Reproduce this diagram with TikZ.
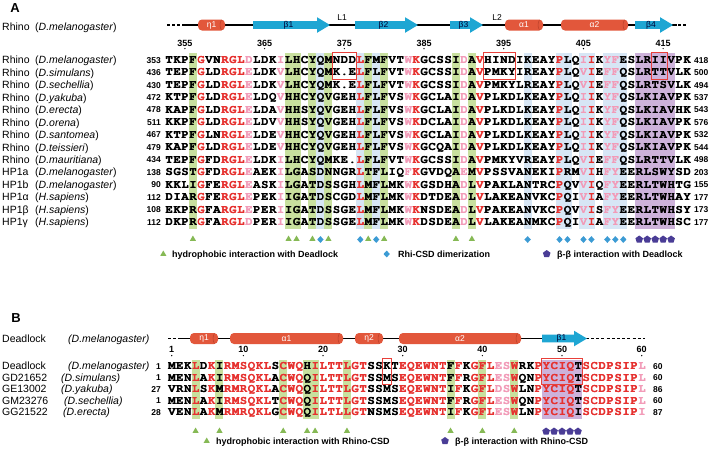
\documentclass[tikz,border=0pt]{standalone}
\usepackage[T1]{fontenc}
\usepackage{fontspec}
\setmainfont{Liberation Sans}
\usetikzlibrary{shapes.geometric}
\definecolor{helixred}{HTML}{E2573B}
\definecolor{helixedge}{HTML}{B8402A}
\definecolor{strandcyan}{HTML}{1EA6D3}
\definecolor{greenbg}{HTML}{C8E09E}
\definecolor{bluebg}{HTML}{D7E6F5}
\definecolor{purplebg}{HTML}{CDB2DA}
\definecolor{seqred}{HTML}{E6312F}
\definecolor{seqpink}{HTML}{F29BB8}
\definecolor{boxred}{HTML}{E8403A}
\definecolor{trigreen}{HTML}{86B955}
\definecolor{diablue}{HTML}{3C9BD4}
\definecolor{pentpurple}{HTML}{4A3D96}
\makeatletter
\newcount\seqcol
\newcount\seqrownum
\def\seqcolor{}
\def\seqdx{7.97}
\newcommand\seqfont{\fontencoding{T1}\fontfamily{pcr}\fontseries{b}\fontshape{n}\fontsize{12}{12}\selectfont}
\def\seqrun#1{%
  \ifx#1\relax\def\seqnext{}%
  \else\ifx#1!\def\seqnext{\def\seqcolor{seqpink}\seqrun}%
  \else\def\seqnext{\seqput{#1}\def\seqcolor{}\seqrun}%
  \fi\fi\seqnext}
\def\seqput#1{%
  \def\seqc{black}%
  \ifnum`#1>`Z\relax\def\seqc{seqred}\fi
  \ifx\seqcolor\@empty\else\let\seqc\seqcolor\fi
  \ifcsname sc\seqpanel-\the\seqcol\endcsname\edef\seqc{\csname sc\seqpanel-\the\seqcol\endcsname}\fi
  \node[seqch,text=\seqc] (\seqpanel\the\seqrownum-\the\seqcol) at ({\seqxz+\the\seqcol*\seqdx},\seqyy) {\uppercase{#1}};%
  \node[seqch,text=\seqc] (\seqpanel\the\seqrownum-\the\seqcol b) at ({\seqxz+\the\seqcol*\seqdx+0.4},\seqyy) {\uppercase{#1}};%
  \global\advance\seqcol by 1\relax}
\def\seqrow#1#2#3#4#5{\def\seqpanel{#1}\global\seqrownum=#2\relax\def\seqxz{#3}\def\seqyy{#4}\global\seqcol=0\relax\def\seqcolor{}\seqrun#5\relax}
\def\setcols#1#2#3{\@for\c:=#3\do{\expandafter\xdef\csname sc#1-\c\endcsname{#2}}}
\setcols{A}{seqred}{4,7,8,9,24,31,39,49,53}
\setcols{A}{seqpink}{10,14,30,37,52,55,56}
\makeatother
% rows of panel A: #1 index, #2 name, #3 species, #4 start, #5 end, #6 sequence
\newcommand\rowA[6]{%
  \pgfmathsetmacro\rowyc{60+12.46*#1}%
  \pgfmathsetmacro\rowyl{\rowyc+3.8}%
  \pgfmathsetmacro\rowyn{\rowyc+3.1}%
  \pgfmathsetmacro\rowys{\rowyc+3.5}%
  \node[lab] (An#1) at (2,\rowyl) {#2};
  \node[lab] (As#1) at (35,\rowyl) {(\textit{#3})};
  \node[numl] (Al#1) at (161,\rowyn) {#4};
  \node[numr] (Ar#1) at (694,\rowyn) {#5};
  \seqrow{A}{#1}{169}{\rowys}{#6}}
% rows of panel B: #1 index, #2 name, #3 species, #4 species x, #5 start, #6 end, #7 sequence
\newcommand\rowB[7]{%
  \pgfmathsetmacro\rowyc{366+11.5*#1}%
  \pgfmathsetmacro\rowyl{\rowyc+3.8}%
  \pgfmathsetmacro\rowyn{\rowyc+3.1}%
  \pgfmathsetmacro\rowys{\rowyc+3.5}%
  \node[lab] (Bn#1) at (2,\rowyl) {#2};
  \node[lab] (Bs#1) at (#4,\rowyl) {\textit{(#3)}};
  \node[numl] (Bl#1) at (161,\rowyn) {#5};
  \node[numr] (Br#1) at (653,\rowyn) {#6};
  \seqrow{B}{#1}{171.7}{\rowys}{#7}}
\newcommand\sshelix[5]{%
  \fill[helixred,rounded corners=4pt] (#2,#4-5.5) rectangle (#3,#4+5.5);
  \draw[helixedge,line width=0.5pt] (#3-3.5,#4-5.2) .. controls (#3-5.5,#4-2) and (#3-5.5,#4+2) .. (#3-3.5,#4+5.2);
  \node[sslab,text=white] (#1) at ({(#2+#3)/2},#4) {#5};}
\newcommand\ssstrand[5]{%
  \fill[strandcyan] (#2,#4-3.8) -- (#3-13,#4-3.8) -- (#3-13,#4-7.8) -- (#3,#4) -- (#3-13,#4+7.8) -- (#3-13,#4+3.8) -- (#2,#4+3.8) -- cycle;
  \node[sslab,text=black!80!blue] (#1) at ({(#2+#3-6)/2},#4) {#5};}
\begin{document}
\begin{tikzpicture}[x=1pt,y=-1pt,
  seqch/.style={font=\seqfont,inner sep=0pt,anchor=base},
  lab/.style={font=\fontsize{10.5}{12}\selectfont,inner sep=0pt,anchor=base west},
  numl/.style={font=\fontsize{8.5}{10}\selectfont\bfseries,inner sep=0pt,anchor=base east},
  numr/.style={font=\fontsize{8.5}{10}\selectfont\bfseries,inner sep=0pt,anchor=base west},
  posn/.style={font=\fontsize{9}{10}\selectfont\bfseries,inner sep=0pt,anchor=base},
  sslab/.style={font=\fontsize{8.5}{10}\selectfont,inner sep=0pt},
  panel/.style={font=\fontsize{13}{14}\selectfont\bfseries,inner sep=0pt},
  leg/.style={font=\fontsize{9}{10}\selectfont\bfseries,inner sep=0pt,anchor=base west},
  tri/.style={regular polygon,regular polygon sides=3,fill=trigreen,inner sep=0pt,minimum size=7pt},
  diam/.style={diamond,fill=diablue,inner sep=0pt,minimum width=6.5pt,minimum height=7pt},
  pent/.style={regular polygon,regular polygon sides=5,fill=pentpurple,inner sep=0pt,minimum size=8pt},
  ssline/.style={line width=1.1pt,black},
  ssdash/.style={line width=1.3pt,black,dash pattern=on 3pt off 2.2pt},
  redbox/.style={draw=boxred,line width=0.9pt}]
\useasboundingbox (0,0) rectangle (709,451);
\fill[white] (0,0) rectangle (709,451);
% ================= Panel A =================
\node[panel] (labA) at (15,8) {A};
\node[lab] (hAn) at (2,30.8) {Rhino};
\node[lab] (hAs) at (35,30.8) {(\textit{D.melanogaster})};
% secondary structure
\draw[ssdash] (167,25) -- (182,25);
\draw[ssline] (182,25) -- (677,25);
\draw[ssdash] (678,25) -- (688,25);
\sshelix{eta1A}{198}{225}{25}{η1}
\ssstrand{b1A}{253}{330}{25}{β1}
\ssstrand{b2A}{355}{418}{25}{β2}
\ssstrand{b3A}{450}{483}{25}{β3}
\sshelix{a1A}{505}{543}{25}{α1}
\sshelix{a2A}{561}{628}{25}{α2}
\ssstrand{b4A}{635}{673}{25}{β4}
\node[sslab] (L1) at (342,18) {L1};
\node[sslab] (L2) at (497,18) {L2};
% position numbers
\foreach \n/\c in {355/2,365/12,375/22,385/32,395/42,405/52,415/62}{
  \node[posn] (pA\n) at ({169+7.97*\c},46) {\n};
  \fill ({169+7.97*\c},48.6) circle (0.7pt);}
% column backgrounds
\foreach \c in {3,15,16,18,20,25,27,36,38}
  \fill[greenbg] ({169+7.97*\c-4},53) rectangle ({169+7.97*\c+4},229);
\foreach \c in {19,24,26,45,49,50,52,53,55,56,57}
  \fill[bluebg] ({169+7.97*\c-4},53) rectangle ({169+7.97*\c+4},229);
\fill[purplebg] ({169+7.97*59-4},53) rectangle ({169+7.97*63+4},229);
% sequences
\rowA{0}{Rhino}{D.melanogaster}{353}{418}{TKPFGVNRGLDLDKILHCYQMNDDLFMFVTWKGCSSIDAVHINDIKEAYPLQIIKYFESLRIIVPK}
\rowA{1}{Rhino}{D.simulans}{436}{500}{TEPFGLDRGLELDKVLHCYQMK.ELFLFVTWKGCSSIDAVPMKYIREAYPLQVIEFFQSLRTTVLK}
\rowA{2}{Rhino}{D.sechellia}{430}{494}{TEPFGLDRGLELDKVLHCYQMK.ELFLFVTWKGCSSIDAVPMKYLREAYPLQVIEFFQSLRTSVLK}
\rowA{3}{Rhino}{D.yakuba}{472}{537}{KTPFGLDRGLELDQVHHCYQVGEHLFLFVSWKGCLAIDAVPLKDLKEAYPLQIIKYFQSLKIAVPK}
\rowA{4}{Rhino}{D.erecta}{478}{543}{KAPFGLDRGLELDAVHHSYQVGEHLFLFVSWKGCLAIDAVPLKDLKEAYPLQIIKYFQSLKIAVHK}
\rowA{5}{Rhino}{D.orena}{511}{576}{KKPFGLDRGLELDVVHHSYQVGEHLFLFVSWKDCLAIDAVPLKDLKEAYPLQIIKYFQSLKIAVPK}
\rowA{6}{Rhino}{D.santomea}{467}{532}{KTPFGLNRGLELDEVHHCYQVGEHLFLFVSWKGCLAIDAVPLKDLKEAYPLQIIKYFQSLKIAVPK}
\rowA{7}{Rhino}{D.teissieri}{479}{544}{KAPFGLDRGLELDEVHHCYQVGEHLFLFVSWKGCQAIDAVPLKDLKEAYPLQIIKYFQSLKIAVPK}
\rowA{8}{Rhino}{D.mauritiana}{434}{498}{TEPFGFDRGLELDKILHCYQMKE.LFLFVTWKGCSSIDAVPMKYVREAYPLQVIEFFQSLRTTVLK}
\rowA{9}{HP1a}{D.melanogaster}{138}{203}{SGSTGFDRGLEAEKILGASDNNGRLTFLIQFKGVDQAEMVPSSVANEKIPRMVIHFYEERLSWYSD}
\rowA{10}{HP1b}{D.melanogaster}{90}{155}{KKLIGFERGLEASKILGATDSSGHLMFLMKWKGSDHADLVPAKLANTRCPQVVIQFYEERLTWHTG}
\rowA{11}{HP1α}{H.sapiens}{112}{177}{DIARGFERGLEPEKIIGATDSCGDLMFLMKWKDTDEADLVLAKEANVKCPQIVIAFYEERLTWHAY}
\rowA{12}{HP1β}{H.sapiens}{108}{173}{EKPRGFARGLEPERIIGATDSSGELMFLMKWKNSDEADLVPAKEANVKCPQVVISFYEERLTWHSY}
\rowA{13}{HP1γ}{H.sapiens}{112}{177}{DKPRGFARGLDPERIIGATDSSGELMFLMKWKDSDEADLVLAKEANMKCPQIVIAFYEERLTWHSC}
% boxes
\draw[redbox] ({169+7.97*21-4.2},52.3) rectangle ({169+7.97*23+4.2},79.6);
\draw[redbox] ({169+7.97*40-4.2},52.3) rectangle ({169+7.97*43+4.2},79.6);
\draw[redbox] ({169+7.97*61-4.2},52.3) rectangle ({169+7.97*62+4.2},79.6);
% markers
\foreach \c in {3,15,16,18,20,25,27,36,38} \node[tri] (tA\c) at ({169+7.97*\c},239) {};
\foreach \c in {19,24,26,45,49,50,52,53,55,56,57} \node[diam] (dA\c) at ({169+7.97*\c},239.5) {};
\foreach \c in {59,60,61,62,63} \node[pent] (pA\c) at ({169+7.97*\c},239.5) {};
% legend
\node[tri] (lgA1) at (163.3,254) {};
\node[leg] (lgA1t) at (172,257.2) {hydrophobic interaction with Deadlock};
\node[diam] (lgA2) at (386.7,254) {};
\node[leg] (lgA2t) at (398,257.2) {Rhi-CSD dimerization};
\node[pent] (lgA3) at (546.7,254) {};
\node[leg] (lgA3t) at (557,257.2) {β-β interaction with Deadlock};
% ================= Panel B =================
\node[panel] (labB) at (16,318) {B};
\node[lab] (hBn) at (2,342.3) {Deadlock};
\node[lab] (hBs) at (68,342.3) {\textit{(D.melanogaster)}};
\draw[ssdash] (168,338.5) -- (180,338.5);
\draw[ssline] (180,338.5) -- (589,338.5);
\draw[ssdash] (591,338.5) -- (645,338.5);
\sshelix{eta1B}{190}{218}{338.5}{η1}
\sshelix{a1B}{230}{343}{338.5}{α1}
\sshelix{eta2B}{355}{383}{338.5}{η2}
\sshelix{a2B}{399}{521}{338.5}{α2}
\ssstrand{b1B}{542}{587}{338.5}{β1}
\foreach \n/\c in {1/0,10/9,20/19,30/29,40/39,50/49,60/59}{
  \node[posn] (pB\n) at ({171.7+7.966*\c},352.6) {\n};
  \fill ({171.7+7.966*\c},355.6) circle (0.7pt);}
\foreach \c in {3,6,14,17,18,22,35,39,43}
  \fill[greenbg] ({171.7+7.966*\c-4},359.5) rectangle ({171.7+7.966*\c+4},418.5);
\fill[purplebg] ({171.7+7.966*47-4},359.5) rectangle ({171.7+7.966*51+4},418.5);
\rowB{0}{Deadlock}{D.melanogaster}{68}{1}{60}{MEKlDkIrmsqklScwqHilttlgtSSKTeqewntFfKgfl!e!swRKpyciqTscdpsip!l}
\rowB{1}{GD21652}{D.simulans}{61}{1}{60}{MENlAkIrmsqklAcwqQilttlgtSSMSeqewntFfRgfl!e!swQNpyciqTscdpsip!l}
\rowB{2}{GE13002}{D.yakuba}{61}{27}{86}{VRNlSkMrmrqklAcwqQilttlgtSSMSeqewntIfKgfl!d!swLNpyciqTscdpsip!l}
\rowB{3}{GM23276}{D.sechellia}{64}{1}{60}{MENlAkIrmsqklTcwqQilttlgtSSMSeqewntFfRgfl!e!swQNpyciqTscdpsip!l}
\rowB{4}{GG21522}{D.erecta}{63}{28}{87}{VENlAkMrmrqklGcwqQiltllgtNSMSeqewntIfKgfl!e!swLNpyciqIscdpsip!i}
\draw[redbox] ({171.7+7.966*27-4.2},358.6) rectangle ({171.7+7.966*27+4.2},384.6);
\draw[redbox] ({171.7+7.966*47-4.2},358.6) rectangle ({171.7+7.966*51+4.2},384.6);
\foreach \c in {3,6,14,17,18,22,35,39,43} \node[tri] (tB\c) at ({171.7+7.966*\c},431) {};
\foreach \c in {47,48,49,50,51} \node[pent] (pB\c) at ({171.7+7.966*\c},431.5) {};
\node[tri] (lgB1) at (206.7,441) {};
\node[leg] (lgB1t) at (216,444.2) {hydrophobic interaction with Rhino-CSD};
\node[pent] (lgB2) at (445,441) {};
\node[leg] (lgB2t) at (455,444.2) {β-β interaction with Rhino-CSD};
\end{tikzpicture}
\end{document}
